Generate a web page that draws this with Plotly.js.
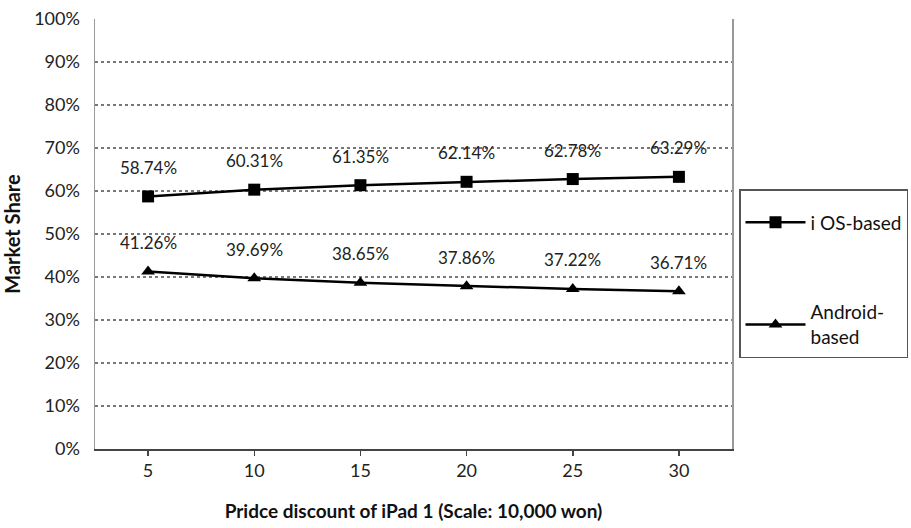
<!DOCTYPE html>
<html>
<head>
<meta charset="utf-8">
<script src="https://cdn.plot.ly/plotly-3.0.1.min.js"></script>
<style>html,body{margin:0;padding:0;background:#fff;}#chart{width:911px;height:528px;}</style>
</head>
<body>
<div id="chart"></div>
<script>
const discounts = [5, 10, 15, 20, 25, 30];
const iosShare = [58.74, 60.31, 61.35, 62.14, 62.78, 63.29];
const androidShare = [41.26, 39.69, 38.65, 37.86, 37.22, 36.71];
const yTicks = [0, 10, 20, 30, 40, 50, 60, 70, 80, 90, 100];
const seriesNames = ["i OS-based", "Android-<br>based"];

const FONT = "Lato, 'Open Sans', sans-serif";

const traces = [
  {
    x: discounts, y: iosShare, name: seriesNames[0], type: "scatter", mode: "lines+markers",
    line: {color: "#000", width: 2.5}, marker: {symbol: "square", size: 12, color: "#000"},
    legendgroup: "a"
  },
  {
    x: discounts, y: androidShare, name: seriesNames[1], type: "scatter", mode: "lines+markers",
    line: {color: "#000", width: 2.5}, marker: {symbol: "triangle-up", size: 12, color: "#000"},
    legendgroup: "b"
  }
];

const annotations = [];
[iosShare, androidShare].forEach(series => {
  series.forEach((v, i) => {
    annotations.push({
      x: discounts[i], y: v, text: v.toFixed(2) + "%", showarrow: false,
      yshift: 29, font: {family: FONT, size: 17, color: "#222"}
    });
  });
});

const layout = {
  width: 911, height: 528,
  margin: {l: 95, r: 179, t: 19, b: 79},
  paper_bgcolor: "#fff", plot_bgcolor: "#fff",
  showlegend: true,
  legend: {
    x: (739 / 911), y: 1 - 189 / 528, xanchor: "left", yanchor: "top",
    xref: "container", yref: "container",
    bordercolor: "#555", borderwidth: 1.5, bgcolor: "#fff",
    font: {family: FONT, size: 19, color: "#111"},
    title: {text: " ", font: {size: 10}},
    tracegroupgap: 62, itemwidth: 60
  },
  xaxis: {
    range: [2.5, 32.5], tickvals: discounts, ticktext: discounts.map(String),
    showgrid: false, zeroline: false,
    showline: true, linecolor: "#444", linewidth: 1.5,
    ticks: "outside", ticklen: 5, tickcolor: "#444", tickwidth: 1.5,
    tickfont: {family: FONT, size: 18, color: "#222"},
    title: {text: "<b>Pridce discount of iPad 1 (Scale: 10,000 won)</b>", standoff: 24,
            font: {family: FONT, size: 19, color: "#111"}}
  },
  yaxis: {
    range: [0, 100], tickvals: yTicks, ticktext: yTicks.map(v => v + "%"),
    showgrid: true, gridcolor: "#777", griddash: "dot", gridwidth: 1.5,
    zeroline: false,
    showline: true, linecolor: "#999", linewidth: 1.5, mirror: true,
    ticks: "outside", ticklen: 10, tickcolor: "rgba(0,0,0,0)",
    tickfont: {family: FONT, size: 18, color: "#222"},
    title: {text: "<b>Market Share</b>", standoff: 12,
            font: {family: FONT, size: 20, color: "#111"}}
  },
  annotations: annotations
};

Plotly.newPlot("chart", traces, layout, {displayModeBar: false, staticPlot: true});
</script>
</body>
</html>
